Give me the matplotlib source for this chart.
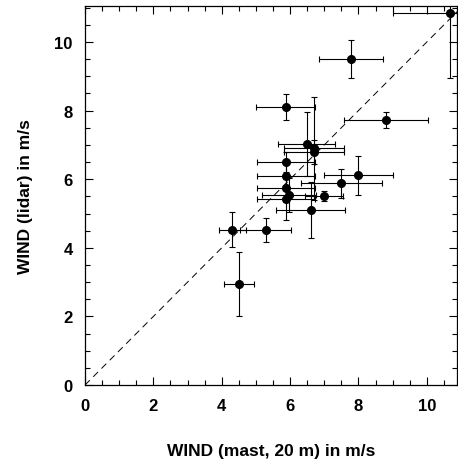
import matplotlib.pyplot as plt
from matplotlib.ticker import MultipleLocator

plt.rcParams['font.family'] = ['Liberation Sans', 'DejaVu Sans']

# wind speed, mast (20 m) vs lidar, m/s
mast = [10.68, 7.79, 5.87, 8.80, 6.48, 6.70, 6.70, 5.88, 5.88, 8.00,
        7.50, 5.88, 7.00, 5.97, 5.88, 6.60, 4.31, 5.29, 4.50]
lidar = [10.85, 9.50, 8.10, 7.73, 7.03, 6.90, 6.79, 6.50, 6.09, 6.11,
         5.88, 5.74, 5.52, 5.54, 5.41, 5.11, 4.53, 4.53, 2.94]
mast_err = [1.68, 0.93, 0.86, 1.22, 0.84, 0.88, 0.88, 0.86, 0.86, 1.02,
            1.18, 0.86, 0.55, 0.80, 0.86, 1.02, 0.40, 0.75, 0.43]
lidar_err = [1.90, 0.55, 0.38, 0.23, 0.93, 1.50, 0.35, 0.30, 0.40, 0.57,
             0.42, 0.40, 0.15, 0.50, 0.60, 0.82, 0.50, 0.35, 0.93]

fig = plt.figure(figsize=(4.58, 4.64), dpi=100)
ax = fig.add_axes([0.1856, 0.168, 0.812, 0.817])

# 1:1 line
ax.plot([0, 11.5], [0, 11.5], color='black', linestyle=(0, (7, 5)), linewidth=0.7)

ax.errorbar(mast, lidar, xerr=mast_err, yerr=lidar_err, fmt='o',
            color='black', markersize=5.5, markerfacecolor='black',
            elinewidth=0.8, capsize=2.5, capthick=0.8)

ax.set_xlim(0, 10.88)
ax.set_ylim(0, 11.05)
ax.xaxis.set_major_locator(MultipleLocator(2))
ax.xaxis.set_minor_locator(MultipleLocator(0.5))
ax.yaxis.set_major_locator(MultipleLocator(2))
ax.yaxis.set_minor_locator(MultipleLocator(0.5))
ax.tick_params(which='both', direction='in', top=True, right=True, width=0.8)
ax.tick_params(which='major', length=6, labelsize=12, pad=9)
ax.tick_params(which='minor', length=3.5)
for lab in ax.get_xticklabels() + ax.get_yticklabels():
    lab.set_fontweight('bold')
for s in ax.spines.values():
    s.set_linewidth(0.9)

ax.set_xlabel("WIND (mast, 20 m) in m/s", fontsize=12.5, fontweight='bold', labelpad=22)
ax.set_ylabel("WIND (lidar) in m/s", fontsize=12.5, fontweight='bold', labelpad=15)

plt.savefig("out.png", dpi=100)
